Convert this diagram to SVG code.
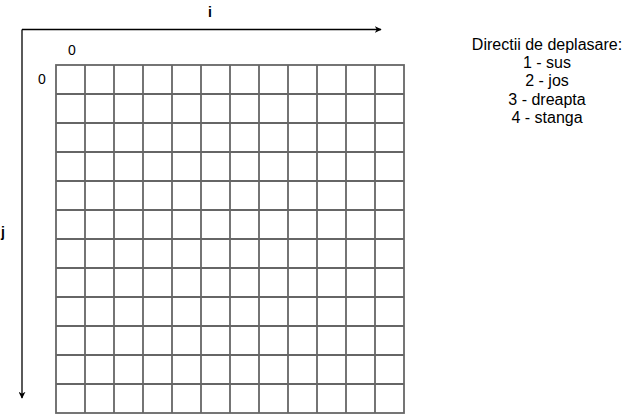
<svg xmlns="http://www.w3.org/2000/svg" width="633" height="420" viewBox="0 0 633 420">
<style>
text{font-family:"Liberation Sans",Arial,sans-serif;fill:#000}
.ax{stroke:#000;stroke-width:1.3;fill:none}
.gl{stroke:#666;stroke-width:1.8;fill:none}
.lbl{font-size:14px}
.dir{font-size:16px;text-anchor:middle}
.b{font-size:14px;font-weight:bold}
</style>
<defs>
<marker id="arr" viewBox="0 0 10 10" refX="9" refY="5" markerWidth="7" markerHeight="7" markerUnits="userSpaceOnUse" orient="auto">
<path d="M0,0 L10,5 L0,10 L3,5 Z" fill="#000"/>
</marker>
</defs>
<rect width="633" height="420" fill="#fff"/>
<g id="connectors">
<path class="ax" d="M22,29.5 H381" marker-end="url(#arr)"/>
<path class="ax" d="M22,29.5 V398" marker-end="url(#arr)"/>
</g>
<g id="grid">
<rect class="gl" x="56" y="65" width="348" height="348" fill="#fff"/>
<path class="gl" d="M85,65V413M114,65V413M143,65V413M172,65V413M201,65V413M230,65V413M259,65V413M288,65V413M317,65V413M346,65V413M375,65V413M56,94H404M56,123H404M56,152H404M56,181H404M56,210H404M56,239H404M56,268H404M56,297H404M56,326H404M56,355H404M56,384H404"/>
</g>
<g id="labels">
<text class="b" x="210" y="17" text-anchor="middle">i</text>
<text class="b" x="3" y="237" text-anchor="middle">j</text>
<text class="lbl" x="72" y="55" text-anchor="middle">0</text>
<text class="lbl" x="42" y="84" text-anchor="middle">0</text>
</g>
<g id="legend">
<text class="dir" x="547" y="50">Directii de deplasare:</text>
<text class="dir" x="547" y="68">1 - sus</text>
<text class="dir" x="547" y="86">2 - jos</text>
<text class="dir" x="547" y="105">3 - dreapta</text>
<text class="dir" x="547" y="123">4 - stanga</text>
</g>
</svg>
